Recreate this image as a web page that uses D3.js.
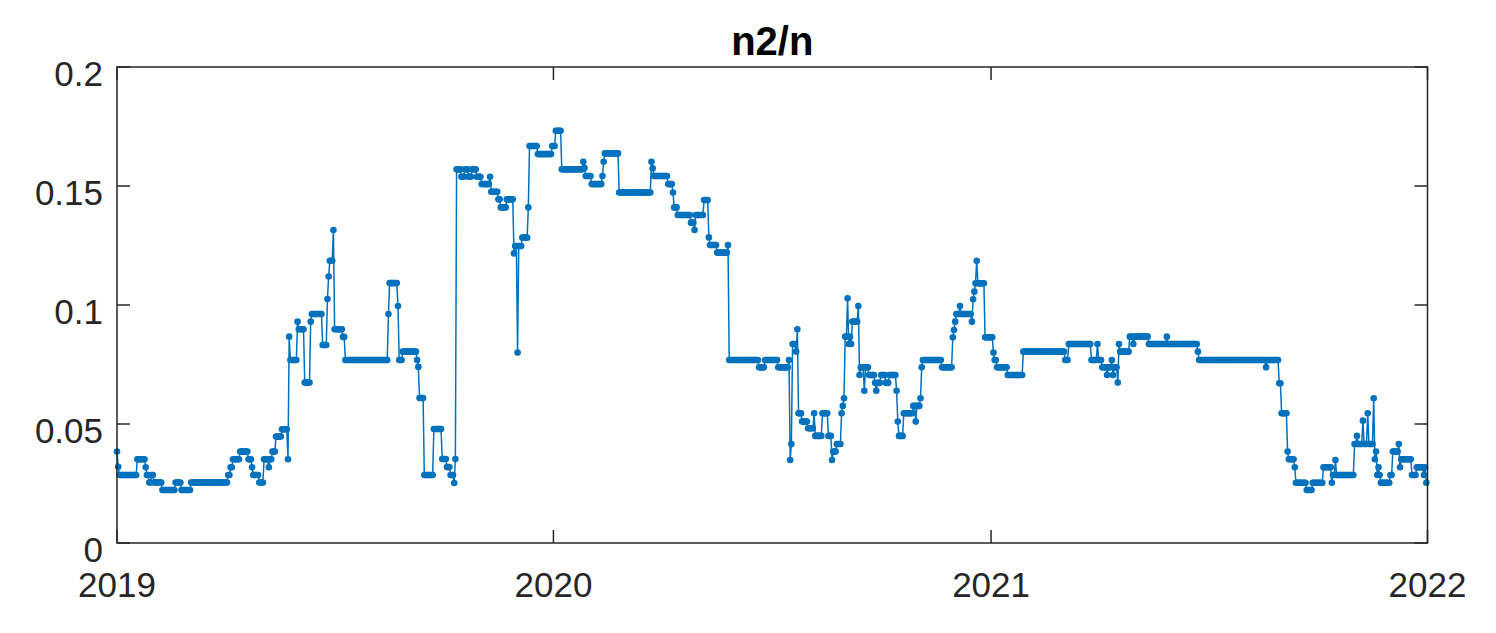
<!DOCTYPE html>
<html>
<head>
<meta charset="utf-8">
<script src="https://cdn.jsdelivr.net/npm/d3@7"></script>
<style>
  html, body { margin: 0; padding: 0; background: #fff; }
  svg { display: block; }
  text { font-family: "Liberation Sans", Arial, sans-serif; fill: #262626; }
</style>
</head>
<body>
<div id="chart"></div>
<script>
// chart data
var chartTitle = "n2/n";
var yTicks = [0, 0.05, 0.1, 0.15, 0.2];
var xTickYears = [2019, 2020, 2021, 2022];

// the series is daily and holds its value for runs of days:
// runStartDay = first day of a run (days since 2019-01-01), runValue = value of that run
var runStartDay = [0, 1, 2, 17, 24, 25, 27, 29, 31, 38, 49, 54, 62, 93, 95, 97, 103, 110, 113, 114,
  119, 123, 127, 128, 130, 133, 138, 143, 144, 145, 151, 152, 157, 162, 163, 172, 176, 177, 178, 181,
  182, 189, 191, 227, 228, 235, 236, 239, 251, 252, 253, 257, 265, 272, 276, 279, 282, 283, 284, 288,
  291, 294, 297, 301, 305, 312, 313, 319, 321, 326, 332, 333, 335, 336, 339, 344, 345, 352, 364, 367,
  372, 390, 391, 392, 397, 406, 407, 408, 420, 447, 448, 449, 461, 465, 466, 469, 480, 483, 484, 491,
  495, 496, 502, 511, 512, 537, 542, 553, 562, 563, 564, 565, 568, 569, 570, 573, 578, 583, 584, 590,
  595, 598, 599, 602, 606, 607, 608, 609, 611, 612, 613, 614, 615, 620, 621, 622, 625, 626, 629, 634,
  635, 636, 639, 643, 646, 652, 653, 654, 658, 666, 668, 669, 672, 673, 674, 690, 699, 700, 701, 702,
  705, 706, 715, 716, 717, 718, 719, 720, 726, 733, 734, 736, 745, 758, 793, 796, 815, 820, 821, 824,
  828, 829, 832, 833, 834, 837, 838, 839, 847, 850, 851, 863, 878, 879, 904, 905, 961, 962, 972, 974,
  979, 980, 985, 986, 995, 1000, 1009, 1016, 1017, 1019, 1020, 1035, 1037, 1038, 1042, 1043, 1046, 1047, 1051, 1052,
  1053, 1054, 1055, 1056, 1057, 1065, 1067, 1072, 1073, 1074, 1083, 1087, 1093, 1094, 1095];
var runValue = [0.0384, 0.032, 0.0286, 0.0352, 0.0318, 0.0286, 0.0254, 0.0286, 0.0254, 0.0223, 0.0254, 0.0223, 0.0254, 0.0286, 0.0318, 0.0352, 0.0384, 0.0352, 0.0318, 0.0286,
  0.0254, 0.0352, 0.0318, 0.0352, 0.0384, 0.0447, 0.0478, 0.0352, 0.0867, 0.0769, 0.093, 0.0898, 0.0674, 0.093, 0.0962, 0.0832, 0.1025, 0.112, 0.1186, 0.1315,
  0.0898, 0.0866, 0.0769, 0.0962, 0.1092, 0.0996, 0.0769, 0.0804, 0.0769, 0.074, 0.0609, 0.0286, 0.0479, 0.0353, 0.0319, 0.0286, 0.0252, 0.0353, 0.157, 0.1539,
  0.157, 0.1539, 0.157, 0.1539, 0.1508, 0.1539, 0.1476, 0.1444, 0.141, 0.1444, 0.1217, 0.1248, 0.080, 0.1248, 0.1283, 0.141, 0.1668, 0.1634, 0.1668, 0.1732,
  0.157, 0.1602, 0.1576, 0.1542, 0.1508, 0.1542, 0.1602, 0.1637, 0.1473, 0.1602, 0.1574, 0.1542, 0.1508, 0.1473, 0.141, 0.1378, 0.1346, 0.1315, 0.1378, 0.1441,
  0.1284, 0.1252, 0.122, 0.1252, 0.0769, 0.0738, 0.0769, 0.0738, 0.0769, 0.0349, 0.0416, 0.0836, 0.0804, 0.0898, 0.0545, 0.051, 0.0482, 0.0545, 0.045, 0.0545,
  0.045, 0.0349, 0.0384, 0.0416, 0.0545, 0.0576, 0.0608, 0.0867, 0.1028, 0.0836, 0.0867, 0.0836, 0.093, 0.0996, 0.0706, 0.0738, 0.064, 0.0738, 0.0706, 0.0673,
  0.064, 0.0673, 0.0706, 0.0673, 0.0706, 0.064, 0.051, 0.045, 0.0545, 0.0576, 0.051, 0.0576, 0.0608, 0.0738, 0.0769, 0.0738, 0.0864, 0.0895, 0.093, 0.0962,
  0.0996, 0.0962, 0.093, 0.1024, 0.1056, 0.1091, 0.1186, 0.1091, 0.0864, 0.080, 0.0769, 0.0738, 0.0706, 0.0804, 0.0769, 0.0836, 0.0769, 0.0836, 0.0769, 0.0738,
  0.0706, 0.0738, 0.0769, 0.0706, 0.0738, 0.0674, 0.0836, 0.0804, 0.0867, 0.0836, 0.0867, 0.0836, 0.0867, 0.0836, 0.0804, 0.0769, 0.0738, 0.0769, 0.0671, 0.0545,
  0.0384, 0.0352, 0.0318, 0.0253, 0.0223, 0.0253, 0.0318, 0.0253, 0.0286, 0.0349, 0.0286, 0.0416, 0.045, 0.0416, 0.0514, 0.0416, 0.0545, 0.0416, 0.0608, 0.0352,
  0.0384, 0.0286, 0.0318, 0.0286, 0.0253, 0.0286, 0.0384, 0.0416, 0.0318, 0.0352, 0.0286, 0.0318, 0.0286, 0.0318, 0.0253];

var firstDay = new Date(Date.UTC(2019, 0, 1));
var lastDay = 1095;

// one point per day, each day takes the value of its run
var series = [];
for (var i = 0; i < runStartDay.length; i++) {
  var stop = (i < runStartDay.length - 1) ? runStartDay[i + 1] - 1 : lastDay;
  for (var d = runStartDay[i]; d <= stop; d++) {
    series.push({ date: d3.utcDay.offset(firstDay, d), value: runValue[i] });
  }
}

var width = 1496, height = 633;
// (window.top is read only, so the plot edges get their own names)
var plotLeft = 117, plotRight = 1427.5, plotTop = 67, plotBottom = 543;
var axisColor = "#262626", lineColor = "#0072BD";

var svg = d3.select("#chart").append("svg")
  .attr("width", width)
  .attr("height", height);

var x = d3.scaleUtc()
  .domain([new Date(Date.UTC(xTickYears[0], 0, 1)), new Date(Date.UTC(xTickYears[xTickYears.length - 1], 0, 1))])
  .range([plotLeft, plotRight]);
var y = d3.scaleLinear()
  .domain([0, 0.2])
  .range([plotBottom, plotTop]);

var xTickDates = xTickYears.map(function (yr) { return new Date(Date.UTC(yr, 0, 1)); });

// the data line and its dots
var line = d3.line()
  .x(function (d) { return x(d.date); })
  .y(function (d) { return y(d.value); });

svg.append("path")
  .datum(series)
  .attr("d", line)
  .attr("fill", "none")
  .attr("stroke", lineColor)
  .attr("stroke-width", 1.5);

svg.append("g")
  .selectAll("circle")
  .data(series)
  .enter()
  .append("circle")
  .attr("cx", function (d) { return x(d.date); })
  .attr("cy", function (d) { return y(d.value); })
  .attr("r", 3.3)
  .attr("fill", lineColor);

// box and ticks (matlab style, ticks pointing in, on all sides)
var tickLen = 13;
var frame = svg.append("g")
  .attr("stroke", axisColor)
  .attr("stroke-width", 1.5)
  .attr("fill", "none");

frame.append("rect")
  .attr("x", plotLeft)
  .attr("y", plotTop)
  .attr("width", plotRight - plotLeft)
  .attr("height", plotBottom - plotTop);

yTicks.forEach(function (t) {
  frame.append("line").attr("x1", plotLeft).attr("x2", plotLeft + tickLen).attr("y1", y(t)).attr("y2", y(t));
  frame.append("line").attr("x1", plotRight).attr("x2", plotRight - tickLen).attr("y1", y(t)).attr("y2", y(t));
});
xTickDates.forEach(function (t) {
  frame.append("line").attr("x1", x(t)).attr("x2", x(t)).attr("y1", plotBottom).attr("y2", plotBottom - tickLen);
  frame.append("line").attr("x1", x(t)).attr("x2", x(t)).attr("y1", plotTop).attr("y2", plotTop + tickLen);
});

// tick labels
svg.selectAll("text.ylab")
  .data(yTicks)
  .enter()
  .append("text")
  .attr("class", "ylab")
  .attr("x", plotLeft - 14)
  .attr("y", function (d) { return y(d) + 19; })
  .attr("text-anchor", "end")
  .attr("font-size", "35px")
  .text(function (d) { return d3.format("")(d); });

svg.selectAll("text.xlab")
  .data(xTickDates)
  .enter()
  .append("text")
  .attr("class", "xlab")
  .attr("x", function (d) { return x(d); })
  .attr("y", plotBottom + 54)
  .attr("text-anchor", "middle")
  .attr("font-size", "35px")
  .text(function (d) { return d3.utcFormat("%Y")(d); });

svg.append("text")
  .attr("x", (plotLeft + plotRight) / 2)
  .attr("y", 55)
  .attr("text-anchor", "middle")
  .attr("font-size", "40px")
  .attr("font-weight", "bold")
  .style("fill", "#000")
  .text(chartTitle);
</script>
</body>
</html>
